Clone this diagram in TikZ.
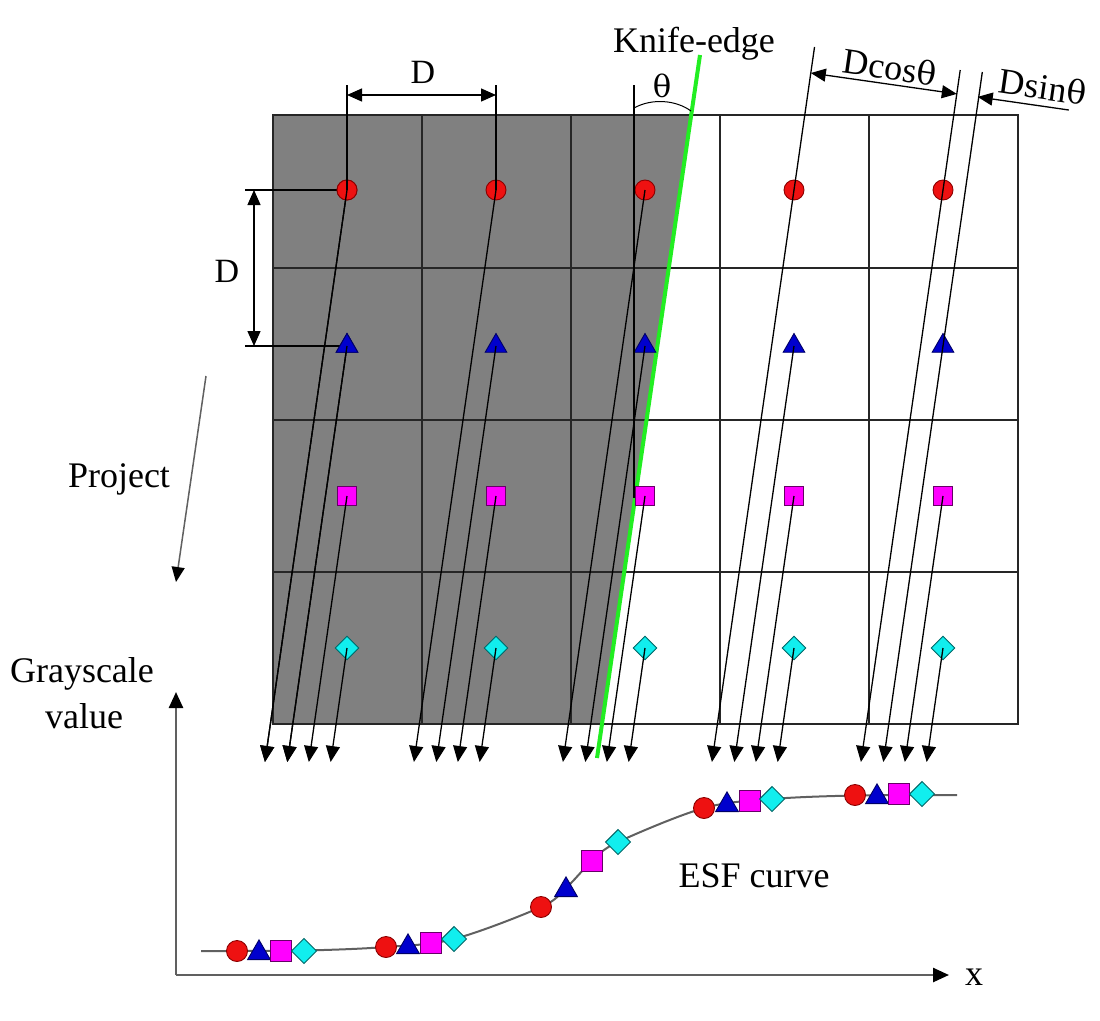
\documentclass[tikz,border=0pt]{standalone}
\usepackage{fontspec}
\setmainfont{Liberation Serif}
\newfontfamily\thfont[Scale=0.9]{DejaVu Serif}
\usetikzlibrary{arrows.meta,shapes.geometric}
\definecolor{darkfill}{HTML}{808080}
\definecolor{knife}{HTML}{22EE22}
\definecolor{mred}{HTML}{EE1111}
\definecolor{mredd}{HTML}{8B0000}
\definecolor{mblue}{HTML}{0000CD}
\definecolor{mblued}{HTML}{000066}
\definecolor{mmag}{HTML}{FF00FF}
\definecolor{mmagd}{HTML}{660066}
\definecolor{mcyan}{HTML}{11EEEE}
\definecolor{mcyand}{HTML}{006666}
\definecolor{axisgray}{HTML}{606060}
\begin{document}
\begin{tikzpicture}[x=1pt,y=-1pt,
  lbl/.style={font=\fontsize{36}{40}\selectfont, inner sep=0pt, anchor=base},
  mcirc/.style={circle, fill=mred, draw=mredd, line width=0.9pt, minimum size=20pt, inner sep=0pt},
  mtri/.style={regular polygon, regular polygon sides=3, fill=mblue, draw=mblued, line width=0.9pt, minimum size=25pt, inner sep=0pt},
  msq/.style={rectangle, fill=mmag, draw=mmagd, line width=0.9pt, minimum size=19.5pt, inner sep=0pt},
  mdia/.style={diamond, fill=mcyan, draw=mcyand, line width=0.9pt, minimum size=24pt, inner sep=0pt},
  bigm/.style={scale=1.05},
  proj/.style={line width=1.3pt, -{Triangle[length=16pt,width=14pt]}},
  plain/.style={line width=1.3pt},
  dimline/.style={line width=1.3pt, {Triangle[length=15pt,width=13pt]}-{Triangle[length=15pt,width=13pt]}},
  gridline/.style={line width=1.8pt, black!85},
  axisline/.style={line width=2.5pt, axisgray, -{Triangle[length=16pt,width=14pt,color=black]}},
  curveline/.style={line width=2pt, axisgray}]
\useasboundingbox (0,0) rectangle (1100,1020);

% dark region
\fill[darkfill] (273,115) -- (691.2,115) -- (602,724) -- (273,724) -- cycle;

% grid
\draw[gridline] (273,115) rectangle (1018,724);
\foreach \gx in {422,571,720,869} \draw[gridline] (\gx,115) -- (\gx,724);
\foreach \gy in {268,420,572} \draw[gridline] (273,\gy) -- (1018,\gy);

% knife edge
\coordinate (ketop) at (700,55);
\coordinate (kebot) at (597,758);
\draw[knife, line width=4pt] (ketop) -- (kebot);

% markers in grid
\foreach \c in {1,...,5} {
  \pgfmathsetmacro\xc{347+149*(\c-1)}
  \node[mcirc] (cir\c) at (\xc,190) {};
  \node[mtri] (tri\c) at (\xc,346) {};
  \node[msq] (sq\c) at (\xc,496) {};
  \node[mdia] (dia\c) at (\xc,648) {};
  \coordinate (tcir\c) at ({\xc-0.1435*(762-190)},762);
  \coordinate (ttri\c) at ({\xc-0.1435*(762-346)},762);
  \coordinate (tsq\c) at ({\xc-0.1435*(762-496)},762);
  \coordinate (tdia\c) at ({\xc-0.1435*(762-648)},762);
}
\foreach \c in {1,...,5} {
  \draw[proj] (cir\c.center) -- (tcir\c);
  \draw[proj] (tri\c.center) -- (ttri\c);
  \draw[proj] (sq\c.center) -- (tsq\c);
  \draw[proj] (dia\c.center) -- (tdia\c);
}

% upward extensions of projection lines
\coordinate (up4) at ({794+0.1435*143},47);
\coordinate (up5a) at ({943+0.1435*120},70);
\coordinate (up5b) at ({943+0.1435*274},72);
\draw[plain] (cir4.center) -- (up4);
\draw[plain] (cir5.center) -- (up5a);
\draw[plain] (tri5.center) -- (up5b);

% D cos theta / D sin theta dimensions
\coordinate (dcA) at (810.8,73);
\coordinate (dcB) at (956.8,93.9);
\coordinate (dsC) at (977.7,96.9);
\coordinate (dsE) at (1068.8,110);
\draw[dimline] (dcA) -- (dcB);
\draw[line width=1.3pt, -{Triangle[length=15pt,width=13pt]}] (dsE) -- (dsC);
\node[font=\fontsize{36}{40}\selectfont, inner sep=0pt, rotate=-8.2] (dcos) at (890,67) {Dcos{\thfont θ}};
\node[font=\fontsize{36}{40}\selectfont, inner sep=0pt, rotate=-8.2] (dsin) at (1043,87) {Dsin{\thfont θ}};

% top D dimension
\coordinate (dt1) at (347,85);
\coordinate (dt2) at (496,85);
\draw[plain] (dt2) -- (cir2.center);
\coordinate (da1) at (347,95);
\coordinate (da2) at (496,95);
\draw[dimline] (da1) -- (da2);
\node[lbl, font=\fontsize{34}{40}\selectfont] (dtop) at (423,83) {D};

% theta reference
\coordinate (thtop) at (634,85);
\coordinate (thbot) at (634,498);
\draw[plain] (thtop) -- (thbot);
\coordinate (arcA) at (634,108);
\coordinate (arcB) at (691,111);
\draw[line width=1pt] (arcA) .. controls (652,98) and (676,100) .. (arcB);
\node[lbl, font=\fontsize{34}{40}\selectfont] (thlbl) at (662,97) {\thfont θ};
\node[lbl] (knifelbl) at (694,52) {Knife-edge};

% left D dimension
\coordinate (dl1) at (245,190);
\coordinate (dl2) at (245,346);
\draw[plain] (dl1) -- (cir1.center);
\draw[plain] (dl2) -- (tri1.center);
\coordinate (dv1) at (254,190);
\coordinate (dv2) at (254,346);
\draw[dimline] (dv1) -- (dv2);
\node[lbl, font=\fontsize{34}{40}\selectfont] (dleft) at (227,282) {D};

% redraw the two left markers over their extension lines
\node[mcirc] (cir1b) at (cir1) {};
\node[mtri] (tri1b) at (tri1) {};
\draw[proj] (cir1b.center) -- (tcir1);
\draw[proj] (tri1b.center) -- (ttri1);
\draw[plain] (dt1) -- (cir1b.center);

% project arrow
\coordinate (pj1) at (206,376);
\coordinate (pj2) at (176,582);
\draw[line width=1.5pt, axisgray, -{Triangle[length=15pt,width=13pt,color=black]}] (pj1) -- (pj2);
\node[lbl] (projlbl) at (119,487) {Project};

% axes
\coordinate (orig) at (176,975);
\coordinate (ytip) at (176,692);
\coordinate (xtip) at (949,975);
\draw[axisline] (orig) -- (ytip);
\draw[axisline] (orig) -- (xtip);
\node[lbl] (ylbl1) at (82,682) {Grayscale};
\node[lbl] (ylbl2) at (84,728) {value};
\node[lbl] (xlbl) at (974,985) {x};

% ESF curve
\draw[curveline] plot[smooth, tension=0.55] coordinates {(201,951) (304,950.5) (386,947) (454,939) (541,907) (566,888) (592,861) (618,842) (704,808) (772,799) (855,795.5) (957,795)};
\node[mcirc, bigm] (e1a) at (237,951) {};
\node[mtri, bigm] (e1b) at (259,953) {};
\node[msq, bigm] (e1c) at (281,951) {};
\node[mdia, bigm] (e1d) at (304,951) {};
\node[mcirc, bigm] (e2a) at (386,947) {};
\node[mtri, bigm] (e2b) at (408,947) {};
\node[msq, bigm] (e2c) at (431,943) {};
\node[mdia, bigm] (e2d) at (454,939) {};
\node[mcirc, bigm] (e3a) at (541,907) {};
\node[mtri, bigm] (e3b) at (566,890) {};
\node[msq, bigm] (e3c) at (592,861) {};
\node[mdia, bigm] (e3d) at (618,842) {};
\node[mcirc, bigm] (e4a) at (704,808) {};
\node[mtri, bigm] (e4b) at (727,805) {};
\node[msq, bigm] (e4c) at (750,801) {};
\node[mdia, bigm] (e4d) at (772,799) {};
\node[mcirc, bigm] (e5a) at (855,795) {};
\node[mtri, bigm] (e5b) at (877,797) {};
\node[msq, bigm] (e5c) at (899,794) {};
\node[mdia, bigm] (e5d) at (922,794) {};
\node[lbl] (esflbl) at (754,887) {ESF curve};
\end{tikzpicture}
\end{document}
